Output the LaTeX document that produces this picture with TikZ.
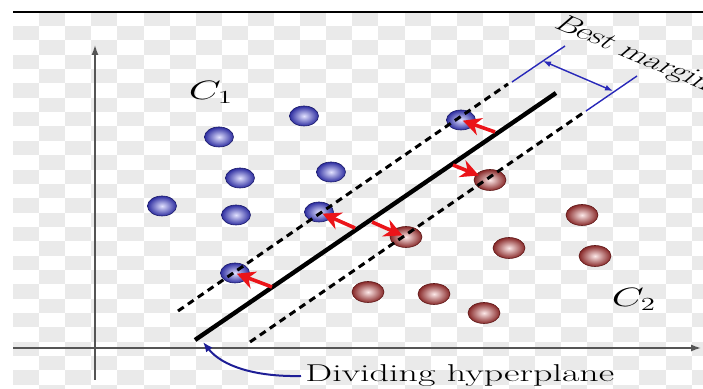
\documentclass[tikz,border=0pt]{standalone}
\usepackage{graphicx}
\usetikzlibrary{shapes.geometric,arrows.meta}
\definecolor{chk}{RGB}{234,234,234}
\definecolor{ballblue}{RGB}{45,45,160}
\definecolor{ballbluein}{RGB}{225,225,255}
\definecolor{ballblueedge}{RGB}{28,28,105}
\definecolor{ballred}{RGB}{135,40,40}
\definecolor{ballredin}{RGB}{252,232,232}
\definecolor{ballrededge}{RGB}{95,25,25}
\definecolor{arrred}{RGB}{235,20,25}
\definecolor{mblue}{RGB}{40,40,185}
\definecolor{navyc}{RGB}{30,30,150}
\definecolor{axisgray}{RGB}{85,85,85}
\tikzset{
  ballbase/.style={ellipse, inner sep=0pt, line width=0.3pt, shade, shading=radial},
  blueball/.style={ballbase, minimum width=14.5pt, minimum height=10pt, draw=ballblueedge, inner color=ballbluein, outer color=ballblue},
  redball/.style={ballbase, minimum width=16pt, minimum height=10.5pt, draw=ballrededge, inner color=ballredin, outer color=ballred},
  redarrow/.style={draw=arrred, line width=1.8pt, -{Stealth[length=9pt,width=9pt]}, shorten >=1pt},
  axisline/.style={draw=axisgray, line width=0.7pt, -{Latex[length=5pt,width=3.5pt]}, color=axisgray},
  hyper/.style={line width=2.2pt, draw=black},
  marginline/.style={line width=1.5pt, draw=black, dash pattern=on 3.5pt off 2.5pt},
  tickline/.style={line width=0.7pt, draw=mblue},
  marginarrow/.style={line width=0.7pt, draw=mblue, {Latex[length=4pt,width=3pt]}-{Latex[length=4pt,width=3pt]}},
  navyarrow/.style={line width=1pt, draw=navyc, -{Latex[length=5pt,width=4pt]}},
  lbl/.style={inner sep=0pt, font=\fontsize{19}{23}\selectfont},
  clbl/.style={inner sep=0pt, font=\fontsize{20.5}{24}\selectfont},
}
\begin{document}
\begin{tikzpicture}[x=0.5pt,y=-0.5pt]
\useasboundingbox (0,0) rectangle (703,389);
\clip (0,0) rectangle (703,389);
\fill[white] (0,0) rectangle (703,389);
% checker background
\foreach \i in {0,...,26}{
  \foreach \j in {0,...,26}{
    \pgfmathtruncatemacro\odd{mod(\i+\j,2)}
    \ifnum\odd=1
      \fill[chk] ({13+26.1*\i},{11.7+14.35*\j}) rectangle ++(26.1,14.35);
    \fi
  }
}
% top rule
\coordinate (tl) at (13,12);
\coordinate (tr) at (703,12);
\draw[line width=0.8pt] (tl) -- (tr);
% axes
\coordinate (yb) at (95,380);
\coordinate (yt) at (95,45);
\coordinate (xl) at (13,348);
\coordinate (xr) at (701,348);
\draw[axisline] (yb) -- (yt);
\draw[axisline] (xl) -- (xr);
% balls
\node[blueball] (b1) at (219,137) {};
\node[blueball] (b2) at (304,116) {};
\node[blueball] (b3) at (240,178) {};
\node[blueball] (b4) at (331,172) {};
\node[blueball] (b5) at (162,206) {};
\node[blueball] (b6) at (236,215) {};
\node[blueball] (b7) at (319,212) {};
\node[blueball] (b8) at (461,120) {};
\node[blueball] (b9) at (235,273) {};
\node[redball] (r1) at (490,180) {};
\node[redball] (r2) at (406,237) {};
\node[redball] (r3) at (582,215) {};
\node[redball] (r4) at (509,248) {};
\node[redball] (r5) at (595,256) {};
\node[redball] (r6) at (368,292) {};
\node[redball] (r7) at (434,294) {};
\node[redball] (r8) at (484,313) {};
% hyperplane and margins
\coordinate (h1) at (195,340);
\coordinate (h2) at (556,93);
\coordinate (u1) at (178,311);
\coordinate (u2) at (508,84);
\coordinate (l1) at (250,342);
\coordinate (l2) at (583,113);
\draw[marginline] (u1) -- (u2);
\draw[marginline] (l1) -- (l2);
\draw[hyper] (h1) -- (h2);
% best margin ticks
\coordinate (t1a) at (512,82);
\coordinate (t1b) at (565,46);
\coordinate (t2a) at (586,111);
\coordinate (t2b) at (637,76);
\coordinate (ma) at (543,61);
\coordinate (mb) at (613,91);
\draw[tickline] (t1a) -- (t1b);
\draw[tickline] (t2a) -- (t2b);
\draw[marginarrow] (ma) -- (mb);
% red arrows
\coordinate (pa) at (495,132);
\coordinate (pb) at (453,165);
\coordinate (pc) at (355,228);
\coordinate (pd) at (372,222);
\coordinate (pe) at (272,287);
\draw[redarrow] (pa) -- (b8.center);
\draw[redarrow, shorten >=6pt] (pb) -- (r1.center);
\draw[redarrow, shorten >=2pt] (pc) -- (b7.center);
\draw[redarrow, shorten >=2pt] (pd) -- (r2.center);
\draw[redarrow] (pe) -- (b9.center);
% labels
\node[clbl] (c1) at (211,92) {\scalebox{1}[0.64]{$C_1$}};
\node[clbl] (c2) at (634,299) {\scalebox{1}[0.64]{$C_2$}};
\node[lbl, anchor=west] (dh) at (305,376) {\scalebox{1}[0.64]{Dividing hyperplane}};
\coordinate (dhtip) at (203,342);
\draw[navyarrow] ([xshift=-2pt]dh.west) .. controls (255,377) and (222,366) .. (dhtip);
\begin{scope}[shift={(553,27)}, yscale=0.6]
  \node[lbl, anchor=base west, rotate=-35, transform shape] (bm) at (0,0) {Best margin};
\end{scope}
\end{tikzpicture}
\end{document}
